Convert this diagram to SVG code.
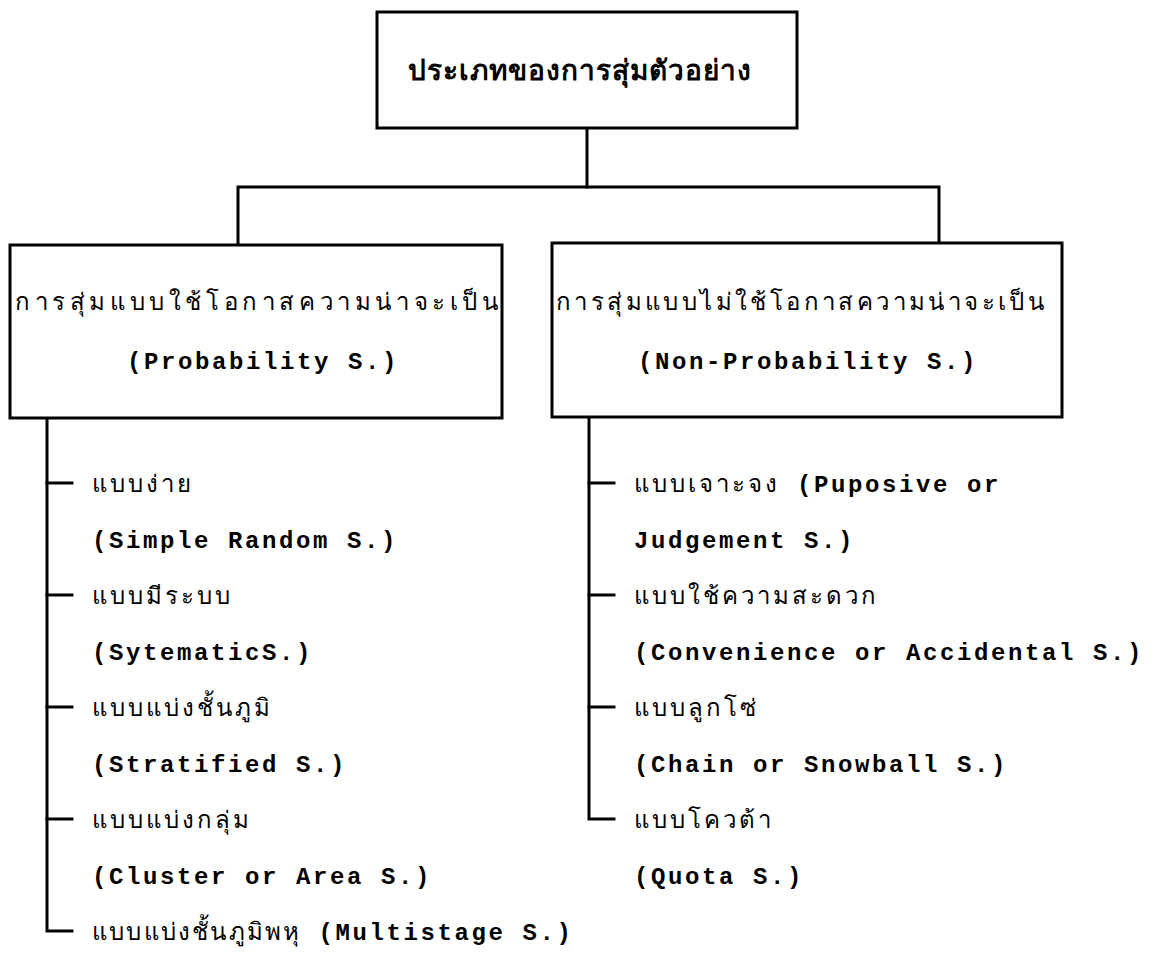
<svg xmlns="http://www.w3.org/2000/svg" width="1161" height="957" viewBox="0 0 1161 957">
  <style>
    .box { fill: #ffffff; stroke: #000000; stroke-width: 3; }
    .wire { fill: none; stroke: #000000; stroke-width: 3; stroke-linecap: square; }
    .th { font-family: "Liberation Serif", "Noto Serif", serif; font-size: 24px; fill: #000000; letter-spacing: 3px; }
    .title { font-family: "Liberation Serif", "Noto Serif", serif; font-size: 28px; font-weight: bold; fill: #000000; letter-spacing: 1px; }
    .en { font-family: "Liberation Mono", "Courier New", monospace; font-size: 24px; fill: #000000; letter-spacing: 2.6px; font-weight: bold; }
  </style>
  <rect width="1161" height="957" fill="#ffffff"/>

  <!-- connectors between the three boxes and the two lists -->
  <g id="connectors">
    <polyline class="wire" points="587,128 587,187"/>
    <polyline class="wire" points="238,245 238,187 939,187 939,243"/>
    <!-- probability list spine and ticks -->
    <polyline class="wire" points="47,418 47,931 72,931"/>
    <line class="wire" x1="47" y1="483" x2="72" y2="483"/>
    <line class="wire" x1="47" y1="595" x2="72" y2="595"/>
    <line class="wire" x1="47" y1="707" x2="72" y2="707"/>
    <line class="wire" x1="47" y1="819" x2="72" y2="819"/>
    <!-- non-probability list spine and ticks -->
    <polyline class="wire" points="589,417 589,819 614,819"/>
    <line class="wire" x1="589" y1="483" x2="614" y2="483"/>
    <line class="wire" x1="589" y1="595" x2="614" y2="595"/>
    <line class="wire" x1="589" y1="707" x2="614" y2="707"/>
  </g>

  <g id="root">
    <rect class="box" x="377" y="12" width="420" height="116"/>
    <text class="title" x="580" y="80" text-anchor="middle">ประเภทของการสุ่มตัวอย่าง</text>
  </g>

  <g id="probability">
    <rect class="box" x="10" y="245" width="492" height="173"/>
    <text class="th" x="15" y="310" style="letter-spacing:4.6px">การสุ่มแบบใช้โอกาสความน่าจะเป็น</text>
    <text class="en" x="263" y="369" text-anchor="middle">(Probability S.)</text>
  </g>

  <g id="non-probability">
    <rect class="box" x="552" y="243" width="510" height="174"/>
    <text class="th" x="556" y="310" style="letter-spacing:3.4px">การสุ่มแบบไม่ใช้โอกาสความน่าจะเป็น</text>
    <text class="en" x="808" y="369" text-anchor="middle">(Non-Probability S.)</text>
  </g>

  <g id="probability-types">
    <text class="th" x="92" y="492">แบบง่าย</text>
    <text class="en" x="92" y="548">(Simple Random S.)</text>
    <text class="th" x="92" y="604">แบบมีระบบ</text>
    <text class="en" x="92" y="660">(SytematicS.)</text>
    <text class="th" x="92" y="716">แบบแบ่งชั้นภูมิ</text>
    <text class="en" x="92" y="772">(Stratified S.)</text>
    <text class="th" x="92" y="828">แบบแบ่งกลุ่ม</text>
    <text class="en" x="92" y="884">(Cluster or Area S.)</text>
    <text x="92" y="940"><tspan class="th" style="letter-spacing:2.2px">แบบแบ่งชั้นภูมิพหุ</tspan><tspan class="en"> (Multistage S.)</tspan></text>
  </g>

  <g id="non-probability-types">
    <text x="634" y="492"><tspan class="th">แบบเจาะจง</tspan><tspan class="en"> (Puposive or</tspan></text>
    <text class="en" x="634" y="548">Judgement S.)</text>
    <text class="th" x="634" y="604">แบบใช้ความสะดวก</text>
    <text class="en" x="634" y="660">(Convenience or Accidental S.)</text>
    <text class="th" x="634" y="716">แบบลูกโซ่</text>
    <text class="en" x="634" y="772">(Chain or Snowball S.)</text>
    <text class="th" x="634" y="828">แบบโควต้า</text>
    <text class="en" x="634" y="884">(Quota S.)</text>
  </g>
</svg>
